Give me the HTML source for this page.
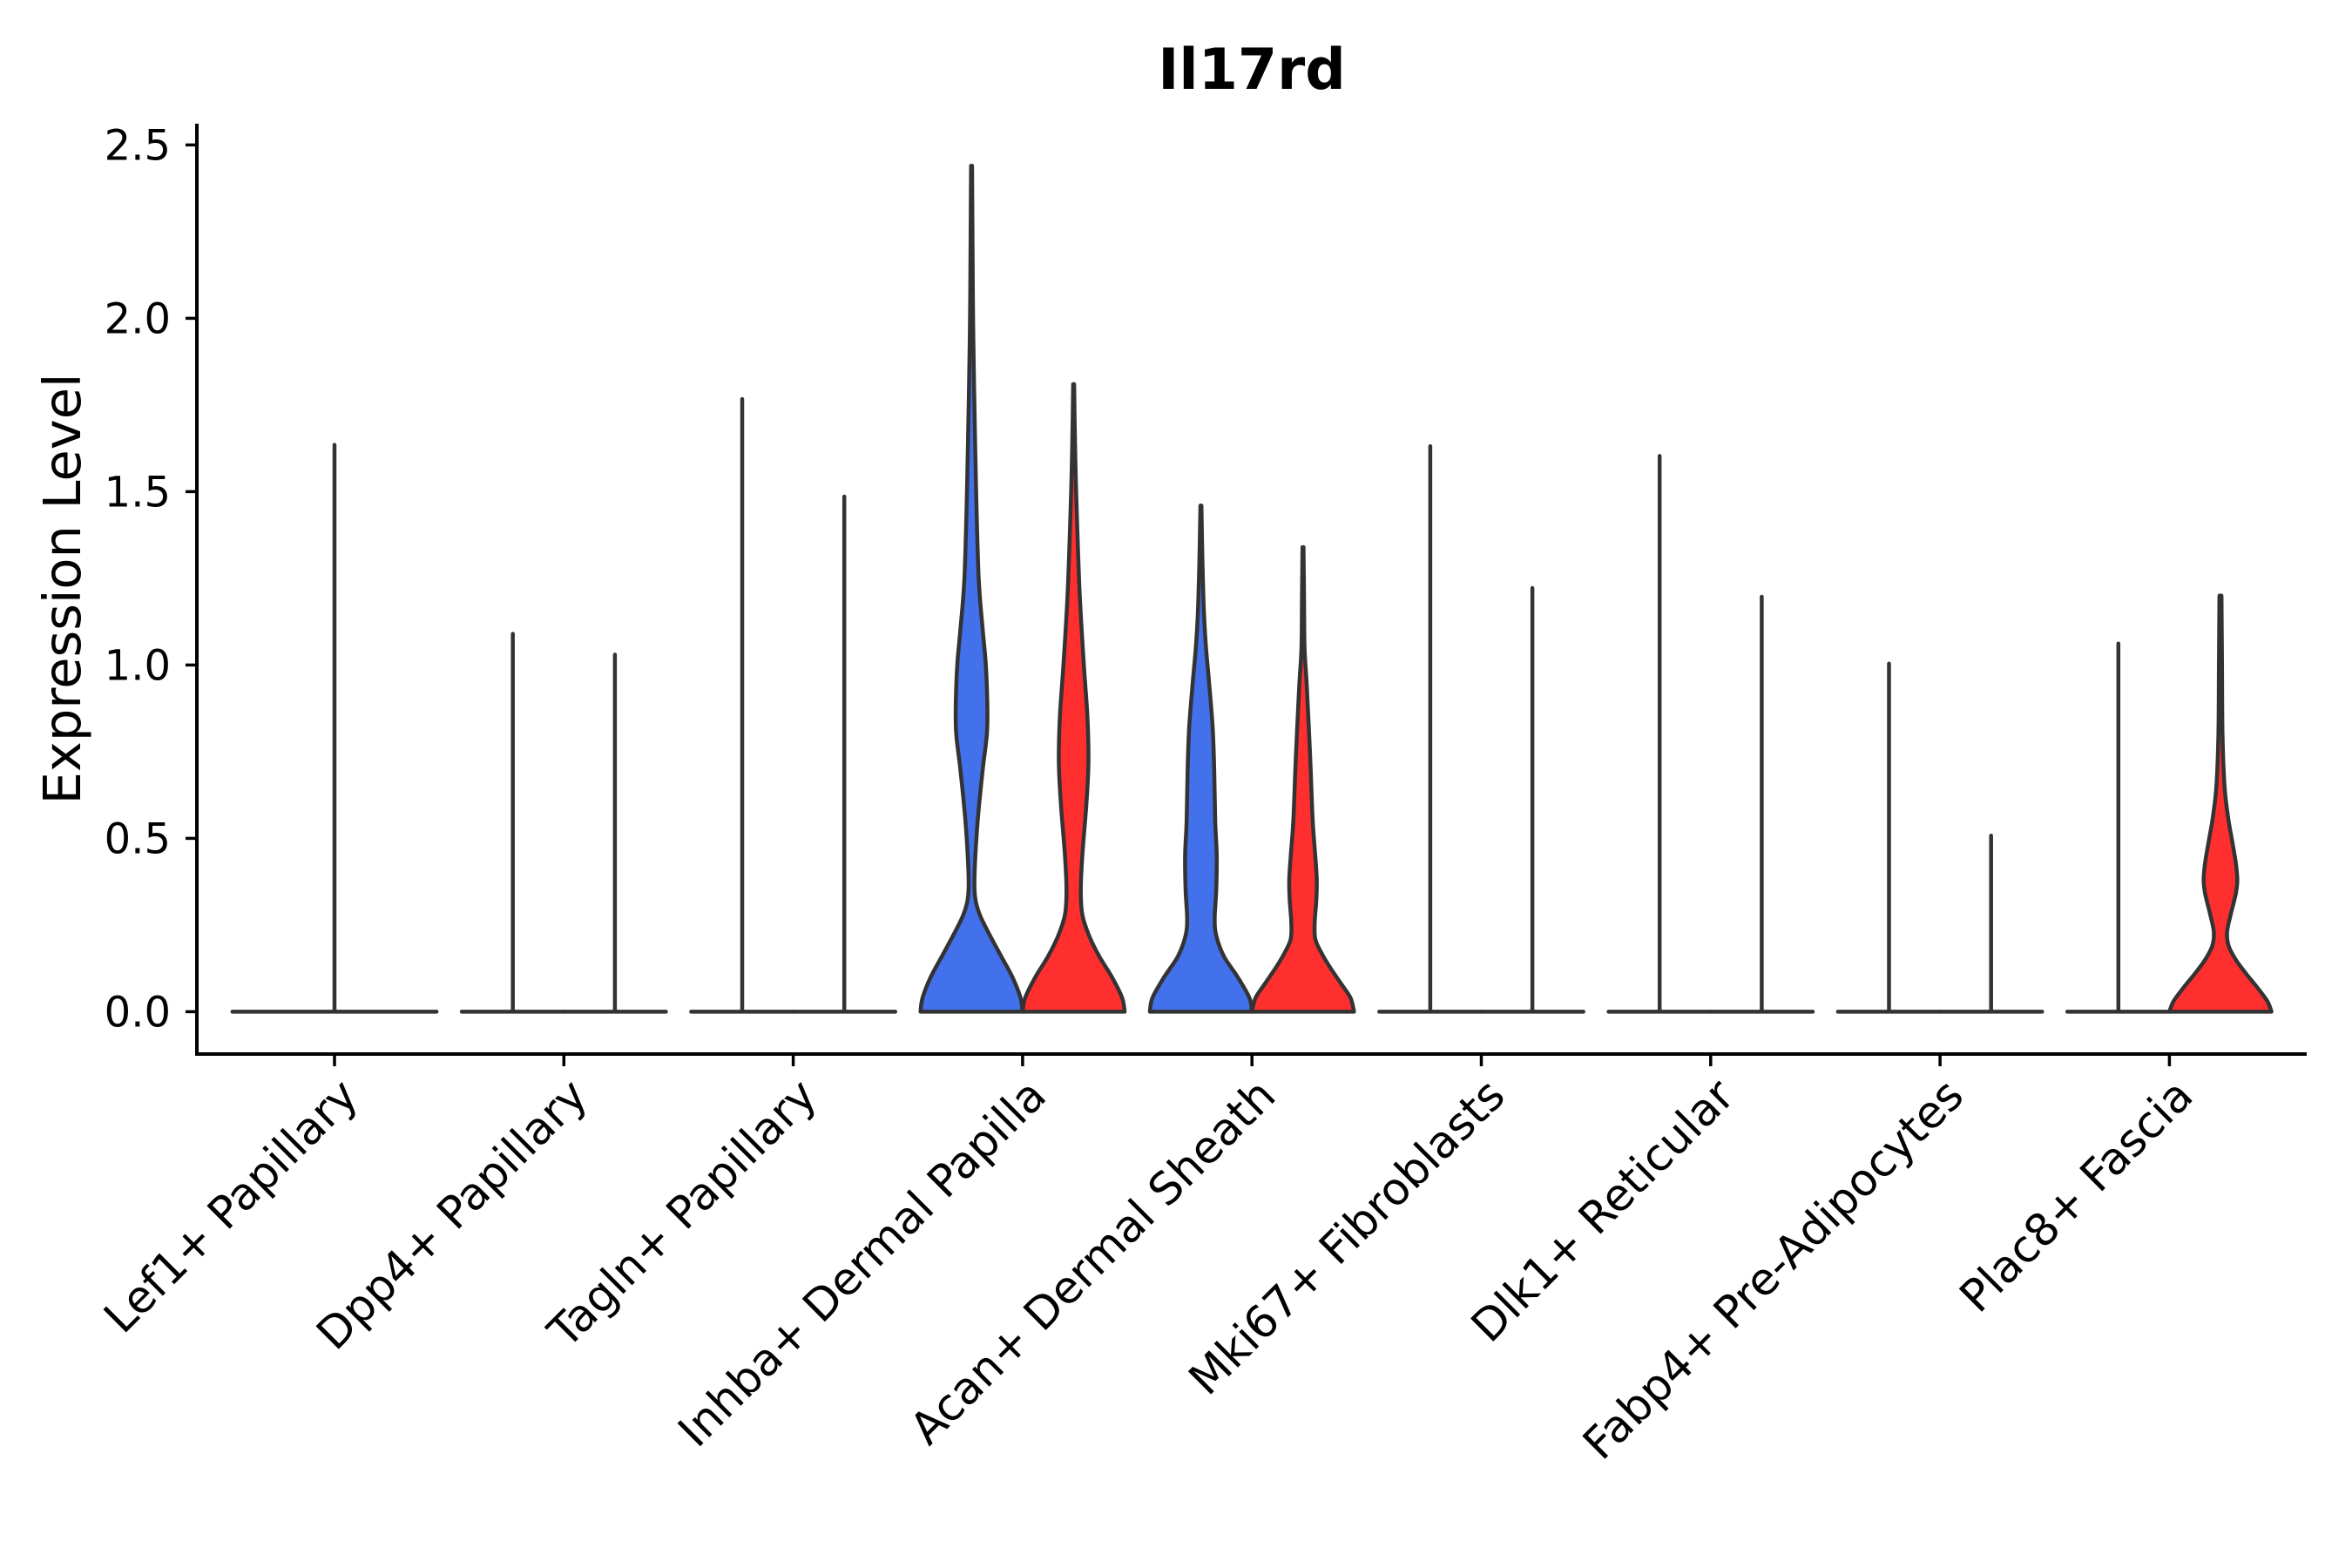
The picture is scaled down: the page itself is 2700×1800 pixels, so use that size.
<!DOCTYPE html>
<html><head><meta charset="utf-8"><style>
html,body{margin:0;padding:0;background:#fff;}
svg{display:block;}
text{font-family:"DejaVu Sans","Liberation Sans",sans-serif;fill:#000;}
</style></head><body>
<svg id="chart" width="2700" height="1800" viewBox="0 0 2700 1800" xmlns="http://www.w3.org/2000/svg">
<rect width="2700" height="1800" fill="#fff"/>
<text x="1437" y="102" font-size="65" font-weight="bold" text-anchor="middle">Il17rd</text>
<text transform="translate(92,676) rotate(-90)" font-size="59" text-anchor="middle">Expression Level</text>
<g id="plot"></g>
</svg>
<script>
const categories = ["Lef1+ Papillary","Dpp4+ Papillary","Tagln+ Papillary","Inhba+ Dermal Papilla","Acan+ Dermal Sheath","Mki67+ Fibroblasts","Dlk1+ Reticular","Fabp4+ Pre-Adipocytes","Plac8+ Fascia"];
const yTicks = [0, 0.5, 1.0, 1.5, 2.0, 2.5];
const yTickLabels = ["0.0","0.5","1.0","1.5","2.0","2.5"];
// per category: max of each group (blue, red); null = group absent
const blueMax = [1.635, 1.09, 1.767, 2.44, 1.46, 1.631, 1.603, 1.004, 1.062];
const redMax  = [null, 1.03, 1.486, 1.81, 1.34, 1.222, 1.197, 0.508, 1.20];
// density profiles [value, relative half-width] for non-degenerate violins
const profInhbaBlue = [[0,1],[0.04,0.96],[0.1,0.8],[0.16,0.58],[0.22,0.36],[0.28,0.16],[0.33,0.07],[0.4,0.06],[0.55,0.12],[0.7,0.22],[0.8,0.3],[0.88,0.31],[1.0,0.28],[1.1,0.22],[1.25,0.14],[1.5,0.09],[1.8,0.05],[2.0,0.03],[2.2,0.02],[2.44,0.01]];
const profInhbaRed = [[0,1],[0.04,0.95],[0.1,0.75],[0.16,0.5],[0.22,0.3],[0.28,0.17],[0.35,0.14],[0.45,0.17],[0.6,0.25],[0.72,0.29],[0.85,0.27],[1.0,0.2],[1.2,0.12],[1.4,0.07],[1.55,0.04],[1.7,0.02],[1.81,0.01]];
const profAcanBlue = [[0,1],[0.04,0.95],[0.1,0.72],[0.16,0.45],[0.22,0.3],[0.27,0.27],[0.35,0.3],[0.45,0.31],[0.55,0.28],[0.7,0.26],[0.82,0.23],[0.95,0.16],[1.05,0.1],[1.15,0.06],[1.3,0.03],[1.46,0.01]];
const profAcanRed = [[0,1],[0.04,0.93],[0.08,0.75],[0.13,0.52],[0.17,0.36],[0.21,0.24],[0.26,0.23],[0.32,0.26],[0.38,0.27],[0.45,0.24],[0.55,0.19],[0.7,0.15],[0.8,0.12],[0.95,0.07],[1.05,0.03],[1.2,0.02],[1.34,0.01]];
const profPlac8Red = [[0,1],[0.03,0.92],[0.07,0.72],[0.11,0.5],[0.15,0.3],[0.19,0.16],[0.23,0.13],[0.28,0.2],[0.34,0.3],[0.38,0.33],[0.43,0.3],[0.5,0.22],[0.56,0.15],[0.65,0.08],[0.8,0.04],[1.0,0.03],[1.2,0.02]];

const NS = "http://www.w3.org/2000/svg";
const plot = document.getElementById("plot");
const X0 = 226, X1 = 2648, YB = 1210, YT = 142;
const step = 263.3, firstX = 384;
function xPos(i){ return firstX + i*step; }
function yPos(v){ return 1161.4 - v*398; }
const hwMax = 58.6;
function mk(tag, attrs){ const e=document.createElementNS(NS,tag); for(const k in attrs) e.setAttribute(k,attrs[k]); plot.appendChild(e); return e; }

// axes
let ax = mk("path",{d:`M${X0},${YT}V${YB}H${X1}`,fill:"none",stroke:"#000","stroke-width":4});


yTicks.forEach((t,i)=>{
  const y=yPos(t);
  const tk=mk("line",{x1:X0-13,x2:X0,y1:y,y2:y,stroke:"#000","stroke-width":3.5});
  
  
  const lb=mk("text",{x:196,y:y+17,"font-size":48,"text-anchor":"end"});
  lb.textContent=yTickLabels[i];
  
  
});
categories.forEach((c,i)=>{
  const x=xPos(i);
  const tk=mk("line",{x1:x,x2:x,y1:YB,y2:YB+14,stroke:"#000","stroke-width":3.5});
  
  
  const lb=mk("text",{transform:`translate(${x+17},${YB+38}) rotate(-45)`,"font-size":51,"text-anchor":"end",dy:"0.35em"});
  lb.textContent=c;
  
  
});

function smooth(pts){
  // Catmull-Rom to cubic bezier, pts already in pixel coords
  let d="";
  for(let k=0;k<pts.length-1;k++){
    const p0=pts[Math.max(0,k-1)], p1=pts[k], p2=pts[k+1], p3=pts[Math.min(pts.length-1,k+2)];
    const c1=[p1[0]+(p2[0]-p0[0])/6, p1[1]+(p2[1]-p0[1])/6];
    const c2=[p2[0]-(p3[0]-p1[0])/6, p2[1]-(p3[1]-p1[1])/6];
    d+=`C${c1[0]},${c1[1]} ${c2[0]},${c2[1]} ${p2[0]},${p2[1]}`;
  }
  return d;
}
function violinPath(cx, hw, prof){
  const left=prof.map(p=>[cx-hw*p[1], yPos(p[0])]);
  const right=prof.slice().reverse().map(p=>[cx+hw*p[1], yPos(p[0])]);
  return `M${left[0][0]},${left[0][1]}`+smooth(left)+`L${right[0][0]},${right[0][1]}`+smooth(right)+"Z";
}

const special = {"3":[profInhbaBlue,profInhbaRed],"4":[profAcanBlue,profAcanRed],"8":[null,profPlac8Red]};
categories.forEach((c,i)=>{
  const gx=xPos(i);
  const single = redMax[i]===null;
  const groups = single ? [[gx, blueMax[i], "#4370EB", 2*hwMax, null]] :
    [[gx-hwMax, blueMax[i], "#4370EB", hwMax, special[i]?special[i][0]:null],
     [gx+hwMax, redMax[i], "#FF2F30", hwMax, special[i]?special[i][1]:null]];
  groups.forEach((g,j)=>{
    const [cx,mv,col,hw,prof]=g;
    if(prof){
      const p=mk("path",{d:violinPath(cx,hw,prof),fill:col,stroke:"#333","stroke-width":4.5,"stroke-linejoin":"round"});
      
      
    } else {
      const p=mk("path",{d:`M${cx-hw},${yPos(0)}H${cx+hw}M${cx},${yPos(0)}V${yPos(mv)}`,fill:"none",stroke:"#333","stroke-width":4.5,"stroke-linecap":"round"});
      
      
    }
  });
});
</script>
</body></html>
